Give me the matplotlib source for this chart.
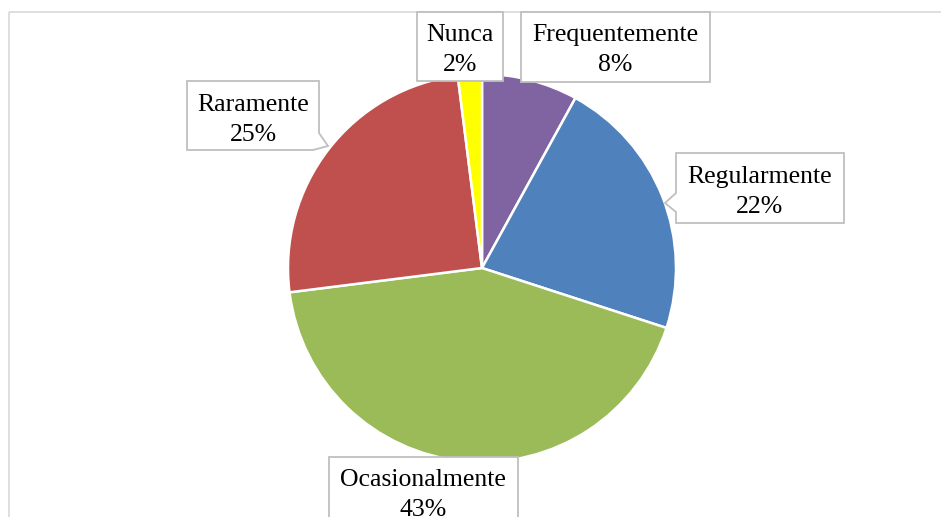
import matplotlib
matplotlib.use("Agg")
import matplotlib.pyplot as plt
from matplotlib.patches import Polygon, Rectangle

# ---- data ----
categories = ["Frequentemente", "Regularmente", "Ocasionalmente", "Raramente", "Nunca"]
values = [8, 22, 43, 25, 2]
colors = ["#8064A2", "#4F81BD", "#9BBB59", "#C0504D", "#FFFF00"]

# ---- layout (pixel coordinates, origin top-left) ----
W, H = 941, 517
pie_cx, pie_cy, pie_r = 482, 268, 194

# callout shapes (outline polygons) and text centres
callouts = {
    "Nunca": [(417, 12), (503, 12), (503, 81), (417, 81)],
    "Frequentemente": [(521, 12), (710, 12), (710, 82), (521, 82)],
    "Regularmente": [(676, 153), (844, 153), (844, 223), (676, 223),
                     (676, 212), (665, 203), (676, 193)],
    "Raramente": [(187, 81), (319, 81), (319, 133), (328, 146), (313, 150), (187, 150)],
    "Ocasionalmente": [(329, 457), (518, 457), (518, 530), (329, 530)],
}
text_centres = {
    "Nunca": (460, 50),
    "Frequentemente": (615.5, 50),
    "Regularmente": (760, 192),
    "Raramente": (253, 120),
    "Ocasionalmente": (423, 495),
}

plt.rcParams["font.family"] = ["Liberation Serif", "DejaVu Serif"]

fig = plt.figure(figsize=(W / 100, H / 100), dpi=100)

# background axes with border
bg = fig.add_axes([0, 0, 1, 1])
bg.set_xlim(0, W)
bg.set_ylim(H, 0)
bg.axis("off")
bg.add_patch(Rectangle((9, 12), W + 20, H + 20, fill=False,
                       edgecolor="#D9D9D9", linewidth=1.2))

# pie axes
pax = fig.add_axes([(pie_cx - pie_r) / W, (H - pie_cy - pie_r) / H,
                    2 * pie_r / W, 2 * pie_r / H])
pax.pie(values, colors=colors, startangle=90, counterclock=False, radius=1,
        wedgeprops=dict(edgecolor="white", linewidth=1.8))
pax.set_xlim(-1, 1)
pax.set_ylim(-1, 1)
pax.set_aspect("auto")
pax.axis("off")

# overlay axes for callouts
ov = fig.add_axes([0, 0, 1, 1])
ov.set_xlim(0, W)
ov.set_ylim(H, 0)
ov.axis("off")
ov.patch.set_alpha(0)

for cat, val in zip(categories, values):
    poly = Polygon(callouts[cat], closed=True, facecolor="white",
                   edgecolor="#BFBFBF", linewidth=1.3)
    ov.add_patch(poly)
    x, y = text_centres[cat]
    ov.text(x, y, f"{cat}\n{val}%", ha="center", va="center",
            fontsize=18.5, linespacing=1.42, color="black")

fig.savefig("out.png", dpi=100)
